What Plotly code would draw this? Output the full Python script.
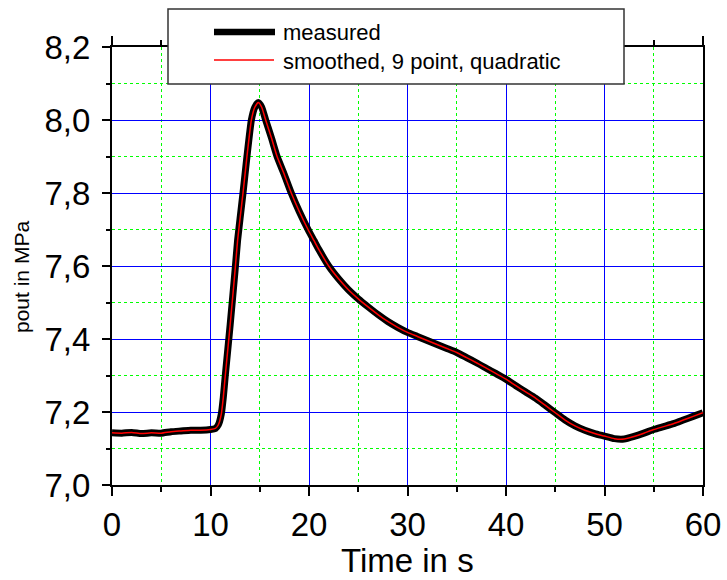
import plotly.graph_objects as go

# Outlet pressure transient (time in s, pressure in MPa)
time_s = [0, 1, 2, 3, 4, 5, 6, 7, 8, 9, 10, 10.5, 10.8, 11.1, 11.3, 11.5, 12.0, 12.5,
          12.75, 13.0, 13.3, 13.7, 14.15, 14.5, 14.85, 15.2, 15.6, 16.2, 16.76, 17.5,
          18.2, 19.0, 19.9, 20.5, 21, 22, 23, 24, 25, 26, 27, 28, 29, 30, 31, 32, 33,
          34, 35, 36, 37, 38, 39, 40, 41, 42, 43, 44, 45, 46, 47, 48, 49, 50, 51, 52,
          53, 54, 55, 56, 57, 58, 59, 60]
pout_measured = [7.143, 7.142, 7.144, 7.141, 7.143, 7.142, 7.146, 7.148, 7.150, 7.150,
                 7.152, 7.155, 7.165, 7.195, 7.24, 7.30, 7.44, 7.59, 7.67, 7.73, 7.80,
                 7.90, 8.00, 8.035, 8.048, 8.035, 8.00, 7.95, 7.90, 7.85, 7.80, 7.75,
                 7.70, 7.67, 7.645, 7.60, 7.565, 7.535, 7.51, 7.488, 7.467, 7.448, 7.432,
                 7.418, 7.407, 7.396, 7.385, 7.374, 7.363, 7.349, 7.335, 7.320, 7.305,
                 7.29, 7.272, 7.255, 7.238, 7.218, 7.198, 7.178, 7.162, 7.150, 7.141,
                 7.134, 7.127, 7.126, 7.133, 7.142, 7.152, 7.160, 7.168, 7.178, 7.188,
                 7.198]
pout_smoothed = list(pout_measured)

legend_labels = ["measured", "smoothed, 9 point, quadratic"]

FONT = "Liberation Sans, Arial, sans-serif"

fig = go.Figure()
fig.add_trace(go.Scatter(x=time_s, y=pout_measured, mode="lines", name=legend_labels[0],
                         line=dict(color="black", width=7, shape="spline", smoothing=0.5)))
fig.add_trace(go.Scatter(x=time_s, y=pout_smoothed, mode="lines", name=legend_labels[1],
                         line=dict(color="red", width=1.5, shape="spline", smoothing=0.5)))

# plot area in pixels: x 112..703, y 47..485
L, R, T, B = 112, 703, 47, 485
W, H = R - L, B - T


def px(x):
    return (x - L) / W


def py(y):
    return (B - y) / H


# framed legend box above the plot
fig.add_shape(type="rect", xref="paper", yref="paper",
              x0=px(168), x1=px(624), y0=py(84), y1=py(9),
              line=dict(color="#333333", width=1.5), fillcolor="white", layer="above")
fig.add_shape(type="line", xref="paper", yref="paper",
              x0=px(214), x1=px(275), y0=py(32), y1=py(32),
              line=dict(color="black", width=6.5), layer="above")
fig.add_shape(type="line", xref="paper", yref="paper",
              x0=px(214), x1=px(274), y0=py(60), y1=py(60),
              line=dict(color="red", width=1.5), layer="above")
for label, yy in zip(legend_labels, [32, 61]):
    fig.add_annotation(text=label, xref="paper", yref="paper", x=px(281), y=py(yy),
                       xanchor="left", yanchor="middle", showarrow=False,
                       font=dict(family=FONT, size=22, color="black"))

# axis titles
fig.add_annotation(text="Time in s", xref="paper", yref="paper", x=0.5, y=py(560),
                   xanchor="center", yanchor="middle", showarrow=False,
                   font=dict(family=FONT, size=33, color="black"))
fig.add_annotation(text="pout in MPa", xref="paper", yref="paper", x=px(21), y=py(277),
                   xanchor="center", yanchor="middle", showarrow=False, textangle=-90,
                   font=dict(family=FONT, size=21, color="black"))

axis_common = dict(
    showline=True, linewidth=2, linecolor="black",
    ticks="outside", tickwidth=2, tickcolor="black",
    showgrid=True, gridcolor="blue", gridwidth=1,
    zeroline=False,
    tickfont=dict(family=FONT, size=33, color="black"),
)

fig.update_xaxes(range=[0, 60], tick0=0, dtick=10, ticklen=9, mirror="ticks",
                 minor=dict(dtick=5, ticks="outside", ticklen=5, tickwidth=1.5,
                            tickcolor="black", showgrid=True, gridcolor="#00ff00",
                            griddash="dot", gridwidth=1),
                 **axis_common)
fig.update_yaxes(range=[7.0, 8.2], tick0=7.0, dtick=0.2, tickformat=".1f", ticklen=8,
                 mirror=True, ticklabelstandoff=5,
                 minor=dict(dtick=0.1, ticks="outside", ticklen=4, tickwidth=1.5,
                            tickcolor="black", showgrid=True, gridcolor="#00ff00",
                            griddash="dot", gridwidth=1),
                 **axis_common)

fig.update_layout(
    width=727, height=580,
    margin=dict(l=L, r=727 - R, t=T, b=580 - B, autoexpand=False),
    paper_bgcolor="white", plot_bgcolor="white",
    separators=",.",
    showlegend=False,
    font=dict(family=FONT, color="black"),
)

fig.write_html("out.html")
